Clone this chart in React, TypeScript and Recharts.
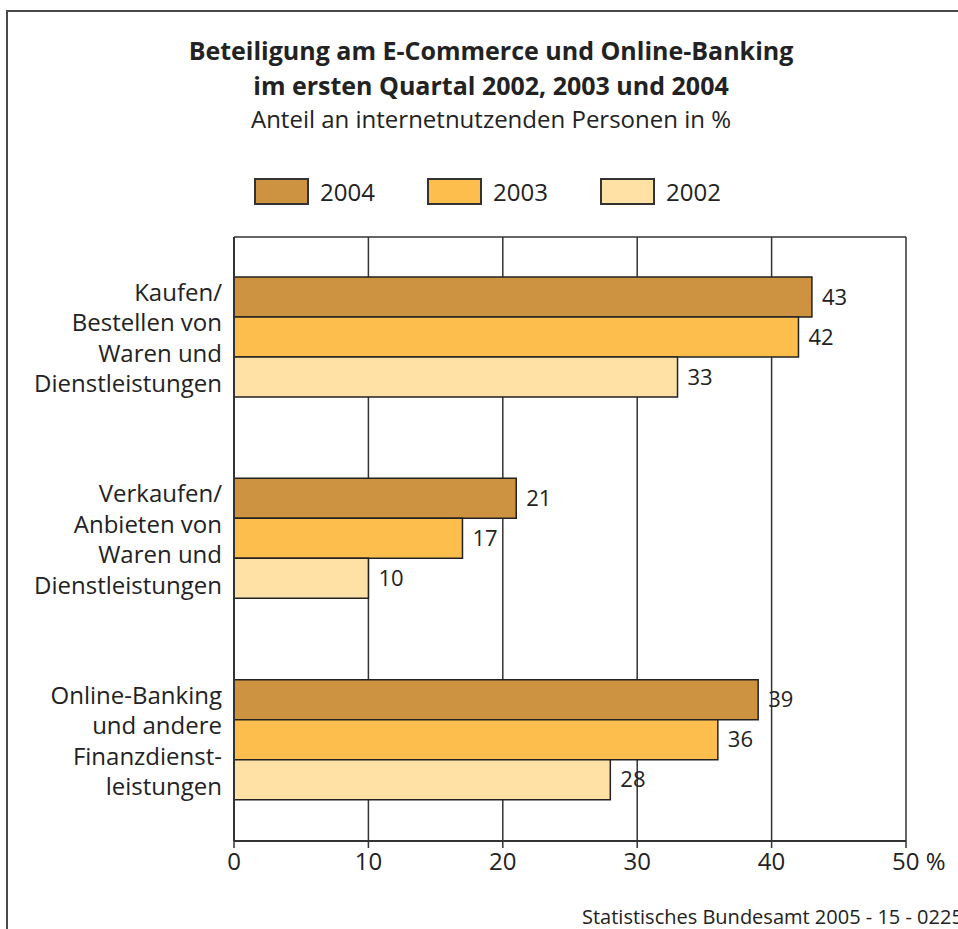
import React from "react";
import { BarChart, Bar, XAxis, YAxis, CartesianGrid, LabelList } from "recharts";

const categories: string[][] = [
  ["Kaufen/", "Bestellen von", "Waren und", "Dienstleistungen"],
  ["Verkaufen/", "Anbieten von", "Waren und", "Dienstleistungen"],
  ["Online-Banking", "und andere", "Finanzdienst-", "leistungen"],
];
const seriesNames = ["2004", "2003", "2002"];
const values2004 = [43, 21, 39];
const values2003 = [42, 17, 36];
const values2002 = [33, 10, 28];
const xTicks = [0, 10, 20, 30, 40, 50];
const colors = ["#CE9340", "#FDBE4E", "#FFE1A6"];

const title1 = "Beteiligung am E-Commerce und Online-Banking";
const title2 = "im ersten Quartal 2002, 2003 und 2004";
const subtitle = "Anteil an internetnutzenden Personen in %";
const source = "Statistisches Bundesamt 2005 - 15 - 0225";

const data = categories.map((c, i) => ({
  name: c.join("\n"),
  y2004: values2004[i],
  y2003: values2003[i],
  y2002: values2002[i],
}));
const keys = ["y2004", "y2003", "y2002"];

const FONT = "'Open Sans', 'Noto Sans', sans-serif";
const TEXT = "#222";

const YTick = (props: any) => {
  const { x, y, payload } = props;
  const lines = String(payload.value).split("\n");
  const lh = 30.5;
  const start = -((lines.length - 1) * lh) / 2;
  return (
    <g>
      {lines.map((l, i) => (
        <text
          key={i}
          x={x}
          y={y + start + i * lh + 1}
          dy={8}
          textAnchor="end"
          fontSize={24}
          fontFamily={FONT}
          fill={TEXT}
        >
          {l}
        </text>
      ))}
    </g>
  );
};

const XTick = (props: any) => {
  const { x, y, payload } = props;
  const isLast = payload.value === 50;
  return (
    <text
      x={isLast ? x - 14 : x}
      y={y + 20}
      textAnchor={isLast ? "start" : "middle"}
      fontSize={24}
      fontFamily={FONT}
      fill={TEXT}
    >
      {isLast ? `${payload.value} %` : payload.value}
    </text>
  );
};

export default function App() {
  return (
    <div
      style={{
        position: "absolute",
        left: 0,
        top: 0,
        width: 958,
        height: 929,
        overflow: "hidden",
        background: "#fff",
        fontFamily: FONT,
        color: TEXT,
      }}
    >
      <div
        style={{
          position: "absolute",
          left: 6,
          top: 10,
          width: 2000,
          height: 2000,
          borderLeft: "2px solid #4a4a4a",
          borderTop: "2px solid #4a4a4a",
        }}
      />
      <div
        style={{
          position: "absolute",
          left: 0,
          top: 33,
          width: 982,
          textAlign: "center",
          fontWeight: 700,
          fontSize: 25,
          lineHeight: "35px",
        }}
      >
        <div>{title1}</div>
        <div>{title2}</div>
        <div style={{ fontWeight: 400, fontSize: 24, lineHeight: "31px" }}>{subtitle}</div>
      </div>
      <div style={{ position: "absolute", left: 254, top: 178, display: "flex" }}>
        {seriesNames.map((n, i) => (
          <div key={n} style={{ width: 173, display: "flex", alignItems: "center" }}>
            <div
              style={{
                width: 51,
                height: 23,
                background: colors[i],
                border: "2px solid #333",
              }}
            />
            <span style={{ marginLeft: 11, fontSize: 24, lineHeight: "27px" }}>{n}</span>
          </div>
        ))}
      </div>
      <div style={{ position: "absolute", left: 0, top: 0 }}>
        <BarChart
          width={958}
          height={929}
          data={data}
          layout="vertical"
          margin={{ top: 237, right: 52, bottom: 0, left: 0 }}
          barCategoryGap={40}
          barGap={0}
        >
          <CartesianGrid
            stroke="#333"
            strokeWidth={1.5}
            horizontal={true}
            vertical={true}
            horizontalPoints={[237, 841]}
          />
          <XAxis
            type="number"
            domain={[0, 50]}
            ticks={xTicks}
            interval={0}
            height={88}
            axisLine={{ stroke: "#333", strokeWidth: 2 }}
            tickLine={{ stroke: "#333", strokeWidth: 1.5 }}
            tickSize={7}
            tick={<XTick />}
          />
          <YAxis
            type="category"
            dataKey="name"
            width={234}
            axisLine={{ stroke: "#333", strokeWidth: 2 }}
            tickLine={false}
            tickMargin={6}
            tick={<YTick />}
          />
          {keys.map((k, i) => (
            <Bar
              key={k}
              dataKey={k}
              name={seriesNames[i]}
              fill={colors[i]}
              stroke="#222"
              strokeWidth={1.5}
              isAnimationActive={false}
            >
              <LabelList
                dataKey={k}
                position="right"
                offset={10}
                fill={TEXT}
                fontSize={22}
                fontFamily={FONT}
              />
            </Bar>
          ))}
        </BarChart>
      </div>
      <div
        style={{
          position: "absolute",
          left: 582,
          top: 905,
          fontSize: 20,
          whiteSpace: "nowrap",
          lineHeight: "24px",
        }}
      >
        {source}
      </div>
    </div>
  );
}
